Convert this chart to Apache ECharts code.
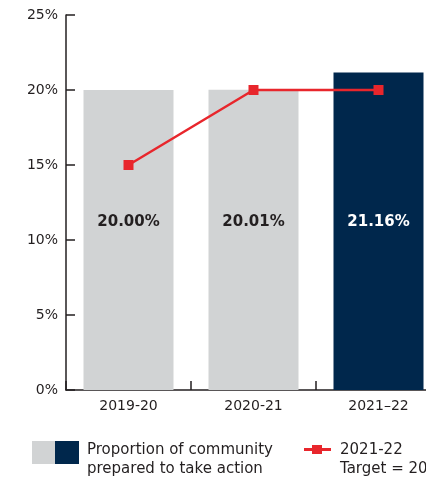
<!DOCTYPE html>
<html><head><meta charset="utf-8">
<script src="https://cdn.jsdelivr.net/npm/echarts@6/dist/echarts.min.js"></script>
<style>html,body{margin:0;padding:0;background:#fff}#c{width:426px;height:479px}</style>
</head><body><div id="c"></div>
<script>
const categories = ['2019-20', '2020-21', '2021–22'];
const proportion = [20.00, 20.01, 21.16];
const target = [15, 20, 20];
const barColors = ['#d1d3d4', '#d1d3d4', '#00274c'];
const labelColors = ['#231f20', '#231f20', '#ffffff'];
const yTicks = [0, 5, 10, 15, 20, 25];

const FONT = '"DejaVu Sans", sans-serif';
const gridTop = 15, gridBottom = 89, H = 479;
const pxPerUnit = (H - gridTop - gridBottom) / (yTicks[yTicks.length - 1] - yTicks[0]);
const labelLevel = 11.2;

const chart = echarts.init(document.getElementById('c'));
chart.setOption({
  animation: false,
  grid: { left: 66, top: gridTop, bottom: gridBottom, width: 375, outerBoundsMode: 'none', containLabel: false },
  xAxis: {
    type: 'category', data: categories,
    axisLine: { lineStyle: { color: '#231f20', width: 1.5 } },
    axisTick: { show: true, inside: true, length: 9, lineStyle: { color: '#231f20', width: 1.5 } },
    axisLabel: { color: '#231f20', fontFamily: FONT, fontSize: 14, margin: 9 }
  },
  yAxis: {
    type: 'value', min: 0, max: 25, interval: 5,
    splitLine: { show: false },
    axisLine: { show: true, lineStyle: { color: '#231f20', width: 1.5 } },
    axisTick: { show: true, inside: true, length: 9, lineStyle: { color: '#231f20', width: 1.5 } },
    axisLabel: { color: '#231f20', fontFamily: FONT, fontSize: 14, margin: 8, formatter: '{value}%' }
  },
  series: [
    {
      type: 'bar', barWidth: '72%',
      data: proportion.map((v, i) => ({
        value: v,
        itemStyle: { color: barColors[i] },
        label: {
          show: true, position: 'inside', color: labelColors[i],
          offset: [0, -(labelLevel - v / 2) * pxPerUnit],
          formatter: () => v.toFixed(2) + '%',
          fontFamily: FONT, fontSize: 15, fontWeight: 'bold'
        }
      }))
    },
    {
      type: 'line', data: target,
      symbol: 'rect', symbolSize: 10,
      lineStyle: { color: '#e8262c', width: 2.5 },
      itemStyle: { color: '#e8262c' }
    }
  ],
  graphic: [
    { type: 'rect', shape: { x: 32, y: 441, width: 23, height: 23 }, style: { fill: '#d1d3d4' } },
    { type: 'rect', shape: { x: 55, y: 441, width: 24, height: 23 }, style: { fill: '#00274c' } },
    { type: 'text', left: 87, top: 441, style: { text: 'Proportion of community\nprepared to take action', font: '15px ' + FONT, fill: '#231f20', lineHeight: 19 } },
    { type: 'line', shape: { x1: 304, y1: 449.5, x2: 331, y2: 449.5 }, style: { stroke: '#e8262c', lineWidth: 3 } },
    { type: 'rect', shape: { x: 312, y: 445, width: 10, height: 9 }, style: { fill: '#e8262c' } },
    { type: 'text', left: 340, top: 441, style: { text: '2021-22\nTarget = 20%', font: '15px ' + FONT, fill: '#231f20', lineHeight: 19 } }
  ]
});
</script></body></html>
